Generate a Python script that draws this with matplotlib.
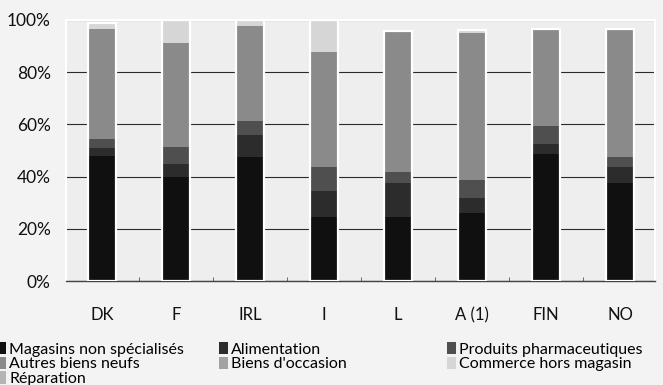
import matplotlib
matplotlib.use("Agg")
import matplotlib.pyplot as plt
import numpy as np

countries = ["DK", "F", "IRL", "I", "L", "A (1)", "FIN", "NO"]
series_names = ["Magasins non spécialisés", "Alimentation", "Produits pharmaceutiques",
                "Autres biens neufs", "Biens d'occasion", "Commerce hors magasin", "Réparation"]
magasins = [48.0, 40.0, 47.5, 24.5, 24.5, 26.0, 48.7, 37.5]
alimentation = [3.0, 5.0, 8.5, 10.0, 13.0, 5.8, 3.8, 6.2]
pharma = [3.5, 6.3, 5.3, 9.2, 4.3, 6.9, 6.9, 3.8]
autres = [42.0, 40.0, 36.4, 44.0, 54.0, 56.3, 37.1, 49.0]
occasion = [0, 0, 0, 0, 0, 0, 0, 0]
hors_magasin = [2.5, 8.7, 2.3, 12.3, 0, 1.0, 0, 0]
reparation = [0, 0, 0, 0, 0, 0, 0, 0]
yticks = [0, 20, 40, 60, 80, 100]
ytick_labels = ["0%", "20%", "40%", "60%", "80%", "100%"]

series = [magasins, alimentation, pharma, autres, occasion, hors_magasin, reparation]
colors = ["#101010", "#2c2c2c", "#4f4f4f", "#8a8a8a", "#a2a2a2", "#d6d6d6", "#b4b4b4"]

plt.rcParams['font.family'] = ['Lato', 'DejaVu Sans']

fig = plt.figure(figsize=(6.63, 3.85), dpi=100, facecolor="#f3f3f3")
ax = fig.add_axes([66/663, 1-281/385, (655-66)/663, (281-20)/385])
ax.set_facecolor("#eeeeee")

x = np.arange(len(countries))
bottom = np.zeros(len(countries))
handles = []
for name, vals, c in zip(series_names, series, colors):
    vals = np.array(vals, dtype=float)
    h = ax.bar(x, vals, width=0.38, bottom=bottom, color=c, linewidth=0,
               label=name, zorder=3)
    handles.append(h)
    bottom += vals
# white outline around each whole stacked bar
ax.bar(x, bottom, width=0.38, facecolor="none", edgecolor="white",
       linewidth=1.6, zorder=4)

ax.set_xlim(-0.49, len(countries) - 0.53)
ax.set_ylim(0, 100)
ax.set_yticks(yticks)
ax.set_yticklabels(ytick_labels, fontsize=12.5, color="#111111")
ax.set_xticks(x)
ax.set_xticklabels(countries, fontsize=12, color="#111111")
ax.tick_params(axis="both", length=0)
ax.tick_params(axis="x", pad=19)
ax.tick_params(axis="y", pad=11)
ax.set_xticks(x[:-1] + 0.5, minor=True)
ax.tick_params(axis="x", which="minor", direction="in", length=3, color="#555555")
ax.yaxis.grid(True, color="#2a2a2a", linewidth=0.8, zorder=1)
ax.set_axisbelow(True)
for s in ["left", "right", "top"]:
    ax.spines[s].set_color("white")
    ax.spines[s].set_linewidth(1.5)
ax.spines["bottom"].set_color("#444444")
ax.spines["bottom"].set_linewidth(1.0)

# legend: three columns placed separately
col_groups = [[0, 3, 6], [1, 4], [2, 5]]
col_x = [-0.004, 0.330, 0.674]
for grp, cx in zip(col_groups, col_x):
    fig.legend([handles[i] for i in grp], [series_names[i] for i in grp],
               loc="upper left", bbox_to_anchor=(cx, 1-342/385), frameon=False,
               fontsize=11.5, handlelength=0.55, handleheight=0.8, handletextpad=0.2,
               labelspacing=0.0, borderaxespad=0, borderpad=0)

fig.savefig("out.png", dpi=100, facecolor=fig.get_facecolor())
